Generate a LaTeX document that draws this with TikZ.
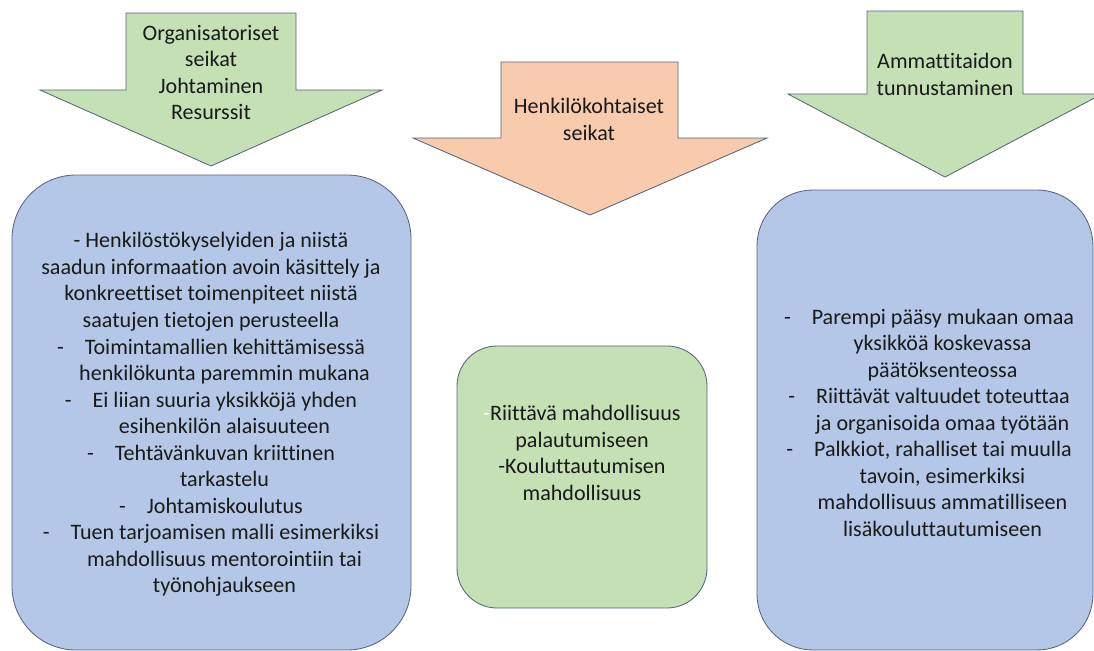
\documentclass[tikz,border=0pt]{standalone}
\usepackage{fontspec}
\setmainfont{Carlito}[RawFeature={-liga;-clig;-calt;-dlig}]
\definecolor{leafgreen}{HTML}{C5E0B4}
\definecolor{peach}{HTML}{F8CBAD}
\definecolor{paleblue}{HTML}{B4C7E7}
\definecolor{edgegray}{HTML}{56647E}
\definecolor{inkblack}{HTML}{1A1A1A}
% dash of a list item and the hanging indent of its next lines
\newcommand{\listdash}{-\hspace{0.525cm}}
\newcommand{\listindent}{\hspace*{0.675cm}}
\begin{document}
\begin{tikzpicture}[x=0.025cm, y=-0.025cm,
    shapeline/.style={draw=edgegray, line width=0.6pt},
    txt/.style={text=inkblack, align=center, inner sep=0pt,
      font=\fontsize{15.7}{18.85}\selectfont}]
  \useasboundingbox (0,0) rectangle (1094,651);
  \clip (0,0) rectangle (1094,651);

  % block arrows
  \draw[shapeline, fill=leafgreen] (126,13) -- (296,13) -- (296,90) -- (382,90)
    -- (211,166) -- (40,90) -- (126,90) -- cycle;
  \draw[shapeline, fill=peach] (501,62) -- (678,62) -- (678,138) -- (767,138)
    -- (590,215) -- (413,138) -- (501,138) -- cycle;
  \draw[shapeline, fill=leafgreen] (867,11) -- (1023,11) -- (1023,94) -- (1102,94)
    -- (945,177) -- (788,94) -- (867,94) -- cycle;

  \node[txt] (orgarrow) at (211,72.5) {Organisatoriset\\seikat\\Johtaminen\\Resurssit};
  \node[txt] (personarrow) at (589,119.5) {Henkilökohtaiset\\seikat};
  \node[txt] (skillarrow) at (945,74.5) {Ammattitaidon\\tunnustaminen};

  % rounded boxes
  \draw[shapeline, fill=paleblue, rounded corners=1.6cm] (12,175) rectangle (411,650);
  \draw[shapeline, fill=leafgreen, rounded corners=1cm] (457,346) rectangle (707,608);
  \draw[shapeline, fill=paleblue, rounded corners=1.4cm] (757,190) rectangle (1093,650);

  \node[txt] (orgbox) at (211,414.5) {- Henkilöstökyselyiden ja niistä\\
    saadun informaation avoin käsittely ja\\
    konkreettiset toimenpiteet niistä\\
    saatujen tietojen perusteella\\
    \listdash Toimintamallien kehittämisessä\\
    \listindent henkilökunta paremmin mukana\\
    \listdash Ei liian suuria yksikköjä yhden\\
    \listindent esihenkilön alaisuuteen\\
    \listdash Tehtävänkuvan kriittinen\\
    \listindent tarkastelu\\
    \listdash Johtamiskoulutus\\
    \listdash Tuen tarjoamisen malli esimerkiksi\\
    \listindent mahdollisuus mentorointiin tai\\
    \listindent työnohjaukseen};
  \node[txt] (personbox) at (582,453) {\textcolor{white}{-}Riittävä mahdollisuus\\
    palautumiseen\\
    -Kouluttautumisen\\
    mahdollisuus};
  \node[txt] (skillbox) at (929,422.5) {\listdash Parempi pääsy mukaan omaa\\
    \listindent yksikköä koskevassa\\
    \listindent päätöksenteossa\\
    \listdash Riittävät valtuudet toteuttaa\\
    \listindent ja organisoida omaa työtään\\
    \listdash Palkkiot, rahalliset tai muulla\\
    \listindent tavoin, esimerkiksi\\
    \listindent mahdollisuus ammatilliseen\\
    \listindent lisäkouluttautumiseen};
\end{tikzpicture}
\end{document}
